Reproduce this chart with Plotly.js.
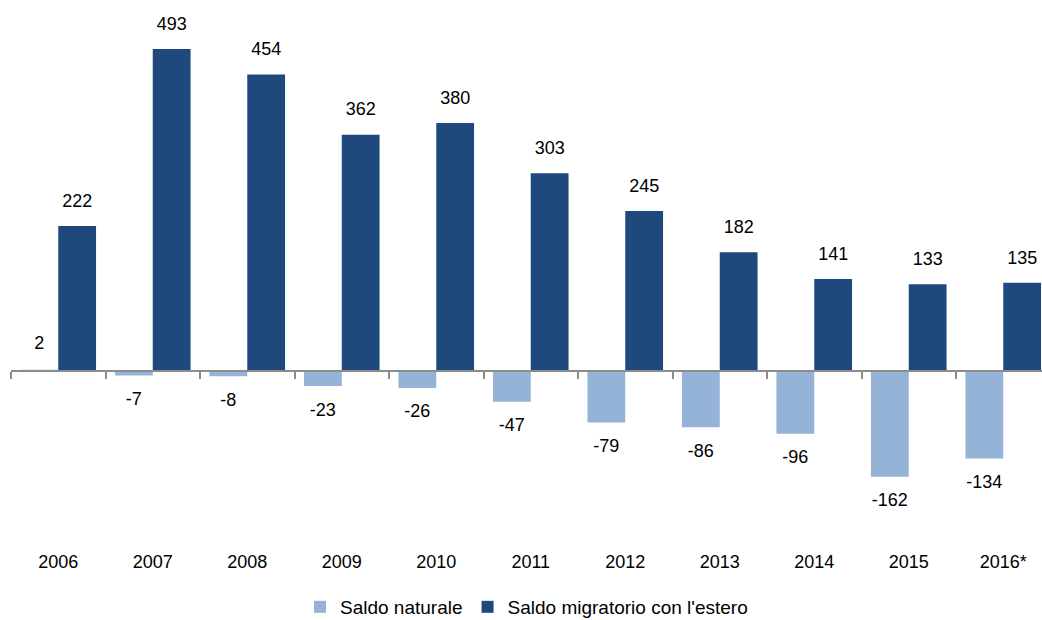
<!DOCTYPE html>
<html>
<head>
<meta charset="utf-8">
<script src="https://cdn.plot.ly/plotly-3.0.1.min.js"></script>
<style>body{margin:0;padding:0;background:#fff}#chart{width:1042px;height:620px}</style>
</head>
<body>
<div id="chart"></div>
<script>
const categories = ["2006","2007","2008","2009","2010","2011","2012","2013","2014","2015","2016*"];
const saldoNaturale = [2, -7, -8, -23, -26, -47, -79, -86, -96, -162, -134];
const saldoMigratorio = [222, 493, 454, 362, 380, 303, 245, 182, 141, 133, 135];
const boundaries = [-0.5,0.5,1.5,2.5,3.5,4.5,5.5,6.5,7.5,8.5,9.5,10.5];

const FONT = "'Liberation Sans Narrow','Arial Narrow','Liberation Sans',Arial,sans-serif";
const xs = categories.map((c,i)=>i);

const yMin = -258.8, yMax = 568.2;
const zeroPos = (0 - yMin) / (yMax - yMin);
const posOf = v => v < 0 ? 'bottom center' : 'top center';

const labelFont = {family:FONT,size:18,color:'#000'};

const traces = [
  {type:'bar', name:'Saldo naturale', x:xs, y:saldoNaturale, offsetgroup:'a',
   marker:{color:'#95B3D7'}, hoverinfo:'skip'},
  {type:'bar', name:'Saldo migratorio con l\'estero', x:xs, y:saldoMigratorio, offsetgroup:'b',
   marker:{color:'#1F497D'}, hoverinfo:'skip'},
  {type:'scatter', x:xs, y:saldoNaturale, offsetgroup:'a', mode:'markers+text', showlegend:false,
   marker:{size:24, opacity:0}, text:saldoNaturale.map(String), textposition:saldoNaturale.map(posOf),
   textfont:labelFont, cliponaxis:false, hoverinfo:'skip'},
  {type:'scatter', x:xs, y:saldoMigratorio, offsetgroup:'b', mode:'markers+text', showlegend:false,
   marker:{size:22, opacity:0}, text:saldoMigratorio.map(String), textposition:saldoMigratorio.map(posOf),
   textfont:labelFont, cliponaxis:false, hoverinfo:'skip'},
  {type:'scatter', x:boundaries, y:boundaries.map(()=>0), xaxis:'x2', mode:'none', showlegend:false, hoverinfo:'skip'}
];

const layout = {
  width:1042, height:620,
  margin:{l:11, r:0, t:0, b:80},
  paper_bgcolor:'#fff', plot_bgcolor:'#fff',
  barmode:'group', bargap:0.2, bargroupgap:0,
  scattermode:'group', scattergap:0.2,
  font:{family:FONT, size:18, color:'#000'},
  xaxis:{range:[-0.5,10.41], tickvals:xs, ticktext:categories, showgrid:false, zeroline:false,
         showline:false, ticks:'', ticklabelstandoff:9, tickfont:{family:FONT,size:18,color:'#000'}, fixedrange:true},
  xaxis2:{overlaying:'x', anchor:'free', position:zeroPos, side:'bottom', range:[-0.5,10.41],
          showline:true, linecolor:'#8c8c8c', linewidth:2, ticks:'outside', ticklen:7, tickwidth:2,
          tickcolor:'#8c8c8c', tickvals:boundaries, showticklabels:false, showgrid:false, zeroline:false},
  yaxis:{range:[yMin,yMax], visible:false, showgrid:false, zeroline:false, fixedrange:true},
  showlegend:true,
  legend:{orientation:'h', x:0.5, xanchor:'center', yref:'container', y:0.021, yanchor:'middle',
          font:{family:FONT,size:19,color:'#000'}, traceorder:'normal'}
};

Plotly.newPlot('chart', traces, layout, {displayModeBar:false, staticPlot:true});
</script>
</body>
</html>
